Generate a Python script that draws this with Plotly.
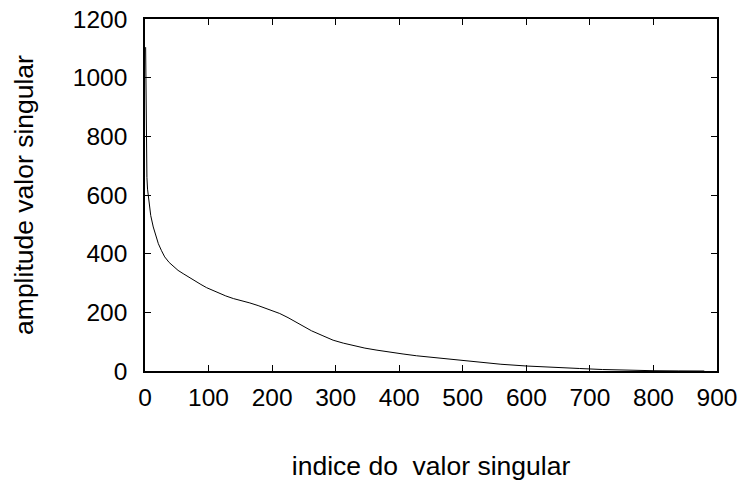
import plotly.graph_objects as go

indices = [1, 2, 3, 4, 6, 9, 13, 17, 21, 26, 31, 38, 45, 52, 60, 70, 79, 88, 97, 106,
           115, 127, 139, 152, 165, 178, 191, 200, 212, 225, 239, 250, 262, 280, 296,
           312, 328, 346, 365, 385, 406, 427, 448, 475, 500, 530, 560, 600, 640, 684,
           720, 760, 800, 840, 880]
amplitudes = [1104, 720, 660, 620, 575, 530, 491, 460, 434, 410, 389, 370, 355, 343, 332,
              318, 306, 295, 284, 275, 266, 256, 247, 240, 232, 223, 213, 205, 196, 182,
              165, 150, 137, 120, 105, 95, 86, 78, 71, 64, 58, 52, 47, 41, 36, 29, 23, 17,
              12, 8.5, 5, 2.5, 1, 0.3, 0]

x_ticks = [0, 100, 200, 300, 400, 500, 600, 700, 800, 900]
y_ticks = [0, 200, 400, 600, 800, 1000, 1200]

fig = go.Figure()
fig.add_trace(go.Scatter(x=indices, y=amplitudes, mode="lines",
                         line=dict(color="black", width=1), showlegend=False))

family = "Liberation Sans, Arial, sans-serif"
tick_font = dict(family=family, size=24.5, color="black")
title_font = dict(family=family, size=26.5, color="black")

fig.update_layout(
    width=744, height=481,
    margin=dict(l=145, r=27, t=19, b=110),
    paper_bgcolor="white", plot_bgcolor="white",
    font=tick_font,
    xaxis=dict(range=[0, 900], tickvals=x_ticks, ticks="inside", ticklen=6,
               tickcolor="black", tickwidth=1, showline=True, linecolor="black",
               linewidth=1.5, mirror="ticks", showgrid=False, zeroline=False,
               automargin=False,
               tickfont=tick_font, ticklabelstandoff=4,
               title=dict(text="indice do \u00a0valor singular", font=title_font, standoff=54)),
    yaxis=dict(range=[0, 1200], tickvals=y_ticks, ticks="inside", ticklen=6,
               tickcolor="black", tickwidth=1, showline=True, linecolor="black",
               linewidth=1.5, mirror="ticks", showgrid=False, zeroline=False,
               automargin=False,
               tickfont=tick_font, ticklabelstandoff=11,
               title=dict(text="amplitude valor singular", font=title_font, standoff=32)),
)

fig.write_html("out.html")
